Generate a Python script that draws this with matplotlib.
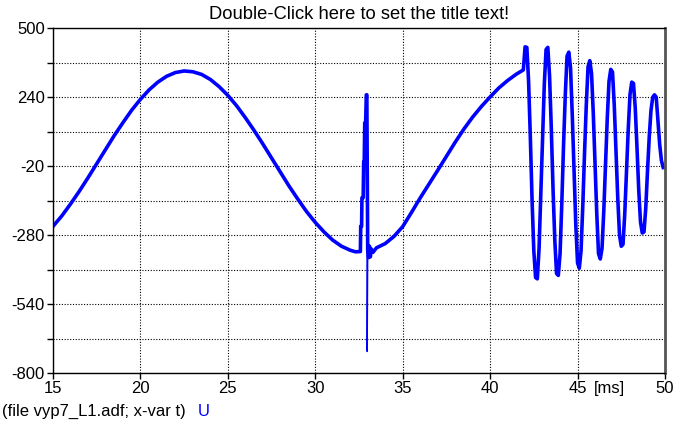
import numpy as np
import matplotlib.pyplot as plt
import matplotlib.transforms as mtransforms

plt.rcParams['font.family'] = ['Liberation Sans', 'DejaVu Sans']

# --- signal U [V] over time t [ms] ---
# slow 50 Hz part before the disturbance
t_sine1 = [15.0, 15.5, 16.0, 16.5, 17.0, 17.5, 18.0, 18.5, 19.0, 19.5,
           20.0, 20.5, 21.0, 21.5, 22.0, 22.5, 23.0, 23.5, 24.0, 24.5,
           25.0, 25.5, 26.0, 26.5, 27.0, 27.5, 28.0, 28.5, 29.0, 29.5,
           30.0, 30.5, 31.0, 31.5, 32.0, 32.3, 32.58]
u_sine1 = [-247, -208, -163, -115, -64, -11, 42, 95, 144, 191,
           232, 268, 297, 319, 333, 339, 336, 326, 307, 280,
           247, 208, 163, 115, 64, 11, -42, -95, -144, -191,
           -232, -268, -299, -322, -337, -343, -342]

# switching spike around 33 ms
t_spike = [32.6, 32.65, 32.67, 32.74, 32.77, 32.8, 32.83, 32.88, 32.92, 32.95,
           33.0, 33.05, 33.1, 33.15, 33.2, 33.3]
u_spike = [-247, -247, -139, -139, -4, -4, 143, 143, 249, 249,
           -340, -365, -322, -362, -332, -345]

# thin dip of the spike
t_dip = [32.95, 32.97, 33.0]
u_dip = [249, -719, -340]

# 50 Hz part after the spike
t_sine2 = [33.5, 34.0, 34.5, 35.0, 35.5, 36.0, 36.5, 37.0, 37.5, 38.0,
           38.5, 39.0, 39.5, 40.0, 40.5, 41.0, 41.5, 41.9]
u_sine2 = [-328, -312, -285, -248, -195, -140, -88, -36, 17, 70,
           120, 165, 205, 241, 275, 303, 327, 343]

# fast oscillation at the end (sampled every 0.1 ms)
t_osc = [42.0, 42.1, 42.2, 42.3, 42.4, 42.5, 42.6, 42.7, 42.8, 42.9,
         43.0, 43.1, 43.2, 43.3, 43.4, 43.5, 43.6, 43.7, 43.8, 43.9,
         44.0, 44.1, 44.2, 44.3, 44.4, 44.5, 44.6, 44.7, 44.8, 44.9,
         45.0, 45.1, 45.2, 45.3, 45.4, 45.5, 45.6, 45.7, 45.8, 45.9,
         46.0, 46.1, 46.2, 46.3, 46.4, 46.5, 46.6, 46.7, 46.8, 46.9,
         47.0, 47.1, 47.2, 47.3, 47.4, 47.5, 47.6, 47.7, 47.8, 47.9,
         48.0, 48.1, 48.2, 48.3, 48.4, 48.5, 48.6, 48.7, 48.8, 48.9,
         49.0, 49.1, 49.2, 49.3, 49.4, 49.5, 49.6, 49.7, 49.8, 49.9]
u_osc = [430, 428, 300, 90, -150, -340, -440, -445, -330, -120,
         100, 290, 420, 428, 320, 120, -110, -300, -425, -432,
         -350, -160, 60, 250, 395, 410, 350, 170, -40, -240,
         -385, -405, -340, -170, 30, 210, 355, 378, 330, 180,
         -10, -200, -350, -370, -330, -190, -10, 160, 300, 345,
         335, 210, 40, -140, -280, -322, -315, -200, -40, 120,
         250, 297, 292, 200, 50, -110, -230, -272, -268, -180,
         -40, 90, 190, 240, 249, 240, 150, 60, 0, -25]

y_major = [-800, -540, -280, -20, 240, 500]
y_minor = [-670, -410, -150, 110, 370]
x_ticks = [15, 20, 25, 30, 35, 40, 45, 50]

t_all = t_sine1 + t_spike + t_sine2 + t_osc
u_all = u_sine1 + u_spike + u_sine2 + u_osc

fig = plt.figure(figsize=(6.74, 4.24), dpi=100)
ax = fig.add_axes([0.0786, 0.1203, 0.9080, 0.8130])

blue = '#0000ff'
ax.plot(t_all, u_all, color=blue, lw=2.6)
ax.plot(t_dip, u_dip, color=blue, lw=1.0)

ax.set_xlim(15, 50)
ax.set_ylim(-800, 500)
ax.set_xticks(x_ticks)
ax.set_yticks(y_major)
ax.set_yticks(y_minor, minor=True)
ax.set_yticklabels([str(v) for v in y_major])

grid_ls = (0, (1, 1.5))
ax.grid(True, which='both', axis='y', color='black', lw=0.8, ls=grid_ls)
ax.grid(True, which='major', axis='x', color='black', lw=0.8, ls=grid_ls)

ax.tick_params(axis='both', which='both', direction='out', length=4, width=1,
               labelsize=12, pad=2, colors='black')

for side in ['left', 'bottom', 'top']:
    ax.spines[side].set_color('black')
    ax.spines[side].set_linewidth(1.0)
ax.spines['right'].set_color('#555555')
ax.spines['right'].set_linewidth(2.0)

trans = mtransforms.blended_transform_factory(ax.transData, ax.transAxes)
ax.text(46.8, -0.022, '[ms]', transform=trans, ha='center', va='top', fontsize=12)

ax.set_title('Double-Click here to set the title text!', fontsize=13.2, pad=7)

fig.text(2 / 674, 1 - 411 / 424, '(file vyp7_L1.adf; x-var t)', fontsize=12,
         ha='left', va='center')
fig.text(198 / 674, 1 - 411 / 424, 'U', fontsize=12, color=blue,
         ha='left', va='center')

fig.savefig('out.png', dpi=100)
